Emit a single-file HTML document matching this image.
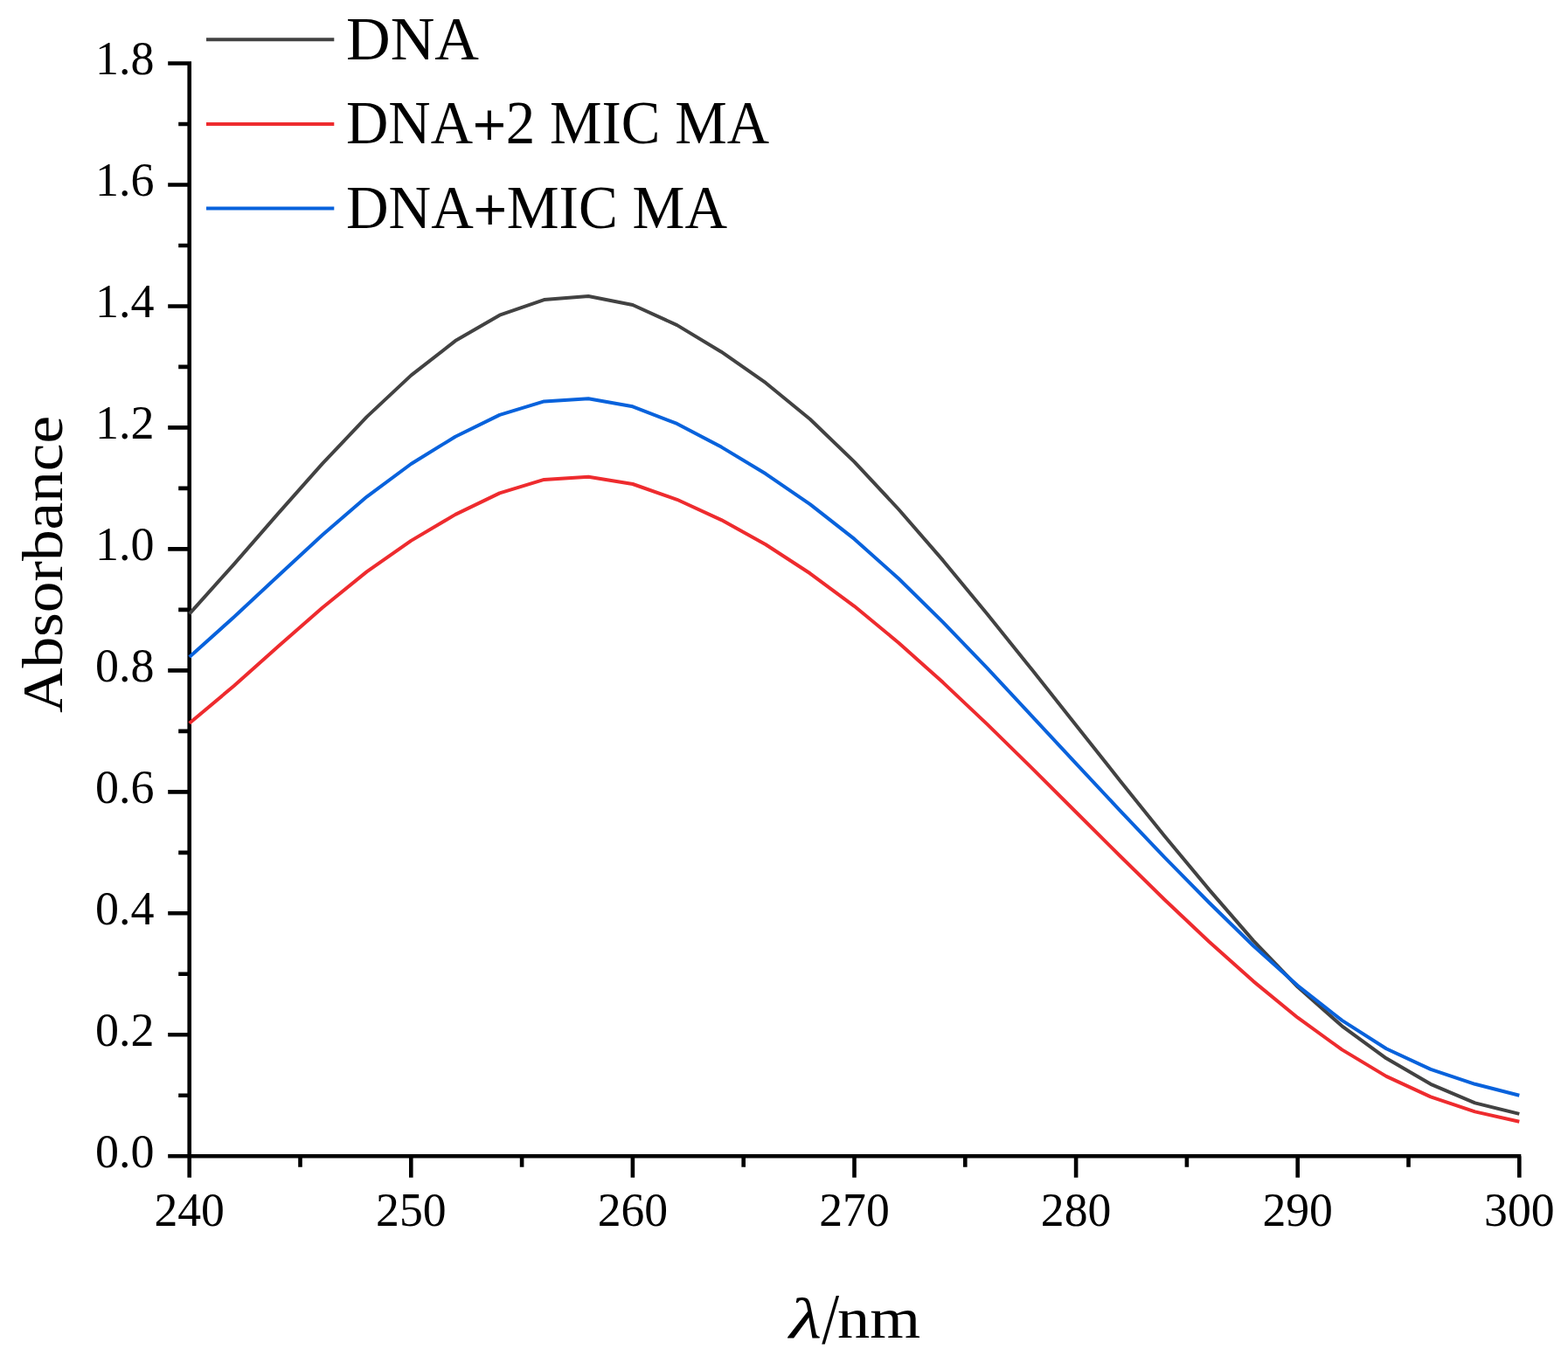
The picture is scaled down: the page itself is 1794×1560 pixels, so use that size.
<!DOCTYPE html>
<html><head><meta charset="utf-8"><title>Absorbance</title>
<style>html,body{margin:0;padding:0;background:#fff;}body{width:1794px;height:1560px;overflow:hidden;}svg{display:block;}</style>
</head><body>
<svg width="1794" height="1560" viewBox="0 0 1794 1560">
<rect width="1794" height="1560" fill="#fff"/>
<path d="M216.7,70.3 V1347.8 M192.2,1323.3 H1740.3 M192.2,1184.3 H216.7 M192.2,1045.3 H216.7 M192.2,906.4 H216.7 M192.2,767.4 H216.7 M192.2,628.4 H216.7 M192.2,489.4 H216.7 M192.2,350.5 H216.7 M192.2,211.5 H216.7 M192.2,72.5 H216.7 M204.2,1253.8 H216.7 M204.2,1114.8 H216.7 M204.2,975.9 H216.7 M204.2,836.9 H216.7 M204.2,697.9 H216.7 M204.2,558.9 H216.7 M204.2,419.9 H216.7 M204.2,281.0 H216.7 M204.2,142.0 H216.7 M470.3,1323.3 V1347.8 M723.9,1323.3 V1347.8 M977.5,1323.3 V1347.8 M1231.1,1323.3 V1347.8 M1484.7,1323.3 V1347.8 M1738.3,1323.3 V1347.8 M343.5,1323.3 V1335.8 M597.1,1323.3 V1335.8 M850.7,1323.3 V1335.8 M1104.3,1323.3 V1335.8 M1357.9,1323.3 V1335.8 M1611.5,1323.3 V1335.8" fill="none" stroke="#000" stroke-width="4.6" stroke-linecap="butt"/>
<polyline points="216.7,702.7 267.4,646.1 318.1,587.9 368.9,530.7 419.6,477.1 470.3,429.6 521.0,390.1 571.7,360.7 622.5,343.1 673.2,339.0 723.9,349.0 774.6,372.1 825.3,402.7 876.1,438.2 926.8,479.8 977.5,528.6 1028.2,583.0 1078.9,641.4 1129.7,702.9 1180.4,766.1 1231.1,830.1 1281.8,893.9 1332.5,956.9 1383.3,1018.1 1434.0,1076.6 1484.7,1129.5 1535.4,1174.3 1586.1,1211.3 1636.9,1240.8 1687.6,1262.4 1738.3,1274.9" fill="none" stroke="#424242" stroke-width="4.0" stroke-linejoin="round"/>
<polyline points="216.7,751.9 267.4,706.5 318.1,659.3 368.9,612.3 419.6,568.6 470.3,531.0 521.0,499.7 571.7,474.9 622.5,459.4 673.2,456.3 723.9,465.3 774.6,484.9 825.3,511.6 876.1,542.3 926.8,577.1 977.5,616.9 1028.2,662.3 1078.9,712.1 1129.7,764.9 1180.4,819.3 1231.1,873.9 1281.8,928.1 1332.5,981.3 1383.3,1033.0 1434.0,1082.5 1484.7,1128.1 1535.4,1167.9 1586.1,1200.2 1636.9,1223.9 1687.6,1240.8 1738.3,1253.7" fill="none" stroke="#0862dc" stroke-width="4.0" stroke-linejoin="round"/>
<polyline points="216.7,827.8 267.4,785.2 318.1,740.1 368.9,695.5 419.6,654.4 470.3,618.9 521.0,588.9 571.7,564.4 622.5,548.9 673.2,545.7 723.9,554.0 774.6,571.8 825.3,595.1 876.1,623.3 926.8,656.3 977.5,693.8 1028.2,735.7 1078.9,781.1 1129.7,829.1 1180.4,878.9 1231.1,929.5 1281.8,980.0 1332.5,1029.7 1383.3,1077.7 1434.0,1123.1 1484.7,1164.7 1535.4,1201.4 1586.1,1231.9 1636.9,1255.4 1687.6,1272.4 1738.3,1283.8" fill="none" stroke="#ee2b2e" stroke-width="4.0" stroke-linejoin="round"/>
<text x="176.5" y="1335.5" text-anchor="end" font-size="55" font-family="'Liberation Serif', serif"  textLength="67.5" lengthAdjust="spacingAndGlyphs">0.0</text>
<text x="176.5" y="1196.5" text-anchor="end" font-size="55" font-family="'Liberation Serif', serif"  textLength="67.5" lengthAdjust="spacingAndGlyphs">0.2</text>
<text x="176.5" y="1057.5" text-anchor="end" font-size="55" font-family="'Liberation Serif', serif"  textLength="67.5" lengthAdjust="spacingAndGlyphs">0.4</text>
<text x="176.5" y="918.6" text-anchor="end" font-size="55" font-family="'Liberation Serif', serif"  textLength="67.5" lengthAdjust="spacingAndGlyphs">0.6</text>
<text x="176.5" y="779.6" text-anchor="end" font-size="55" font-family="'Liberation Serif', serif"  textLength="67.5" lengthAdjust="spacingAndGlyphs">0.8</text>
<text x="176.5" y="640.6" text-anchor="end" font-size="55" font-family="'Liberation Serif', serif"  textLength="67.5" lengthAdjust="spacingAndGlyphs">1.0</text>
<text x="176.5" y="501.6" text-anchor="end" font-size="55" font-family="'Liberation Serif', serif"  textLength="67.5" lengthAdjust="spacingAndGlyphs">1.2</text>
<text x="176.5" y="362.7" text-anchor="end" font-size="55" font-family="'Liberation Serif', serif"  textLength="67.5" lengthAdjust="spacingAndGlyphs">1.4</text>
<text x="176.5" y="223.7" text-anchor="end" font-size="55" font-family="'Liberation Serif', serif"  textLength="67.5" lengthAdjust="spacingAndGlyphs">1.6</text>
<text x="176.5" y="84.7" text-anchor="end" font-size="55" font-family="'Liberation Serif', serif"  textLength="67.5" lengthAdjust="spacingAndGlyphs">1.8</text>
<text x="216.7" y="1403.3" text-anchor="middle" font-size="55" font-family="'Liberation Serif', serif"  textLength="80.5" lengthAdjust="spacingAndGlyphs">240</text>
<text x="470.3" y="1403.3" text-anchor="middle" font-size="55" font-family="'Liberation Serif', serif"  textLength="80.5" lengthAdjust="spacingAndGlyphs">250</text>
<text x="723.9" y="1403.3" text-anchor="middle" font-size="55" font-family="'Liberation Serif', serif"  textLength="80.5" lengthAdjust="spacingAndGlyphs">260</text>
<text x="977.5" y="1403.3" text-anchor="middle" font-size="55" font-family="'Liberation Serif', serif"  textLength="80.5" lengthAdjust="spacingAndGlyphs">270</text>
<text x="1231.1" y="1403.3" text-anchor="middle" font-size="55" font-family="'Liberation Serif', serif"  textLength="80.5" lengthAdjust="spacingAndGlyphs">280</text>
<text x="1484.7" y="1403.3" text-anchor="middle" font-size="55" font-family="'Liberation Serif', serif"  textLength="80.5" lengthAdjust="spacingAndGlyphs">290</text>
<text x="1738.3" y="1403.3" text-anchor="middle" font-size="55" font-family="'Liberation Serif', serif"  textLength="80.5" lengthAdjust="spacingAndGlyphs">300</text>
<path d="M236,45.3 H382.3" stroke="#424242" stroke-width="4.0" fill="none"/>
<text x="396" y="68.0" font-size="70" font-family="'Liberation Serif', serif" textLength="152" lengthAdjust="spacingAndGlyphs">DNA</text>
<path d="M236,142.0 H382.3" stroke="#ee2b2e" stroke-width="4.0" fill="none"/>
<text x="396" y="164.0" font-size="70" font-family="'Liberation Serif', serif" textLength="484" lengthAdjust="spacingAndGlyphs">DNA<tspan dy="2.7" stroke="#000" stroke-width="0.8">+</tspan><tspan dy="-2.7">2 MIC MA</tspan></text>
<path d="M236,238.4 H382.3" stroke="#0862dc" stroke-width="4.0" fill="none"/>
<text x="396" y="260.8" font-size="70" font-family="'Liberation Serif', serif" textLength="436" lengthAdjust="spacingAndGlyphs">DNA<tspan dy="2.7" stroke="#000" stroke-width="0.8">+</tspan><tspan dy="-2.7">MIC MA</tspan></text>
<text transform="translate(70.6,646) rotate(-90)" text-anchor="middle" font-size="66" font-family="'Liberation Serif', serif"  textLength="340" lengthAdjust="spacingAndGlyphs">Absorbance</text>
<g font-size="66" font-family="'Liberation Serif', serif" ><text transform="translate(903,1531.4) scale(1.296,1)" font-style="italic">λ</text><text transform="translate(940.2,1537.4) scale(1.083,1.2545)">/</text><text transform="translate(958,1531.4) scale(1.128,1)">nm</text></g>
</svg>
</body></html>
